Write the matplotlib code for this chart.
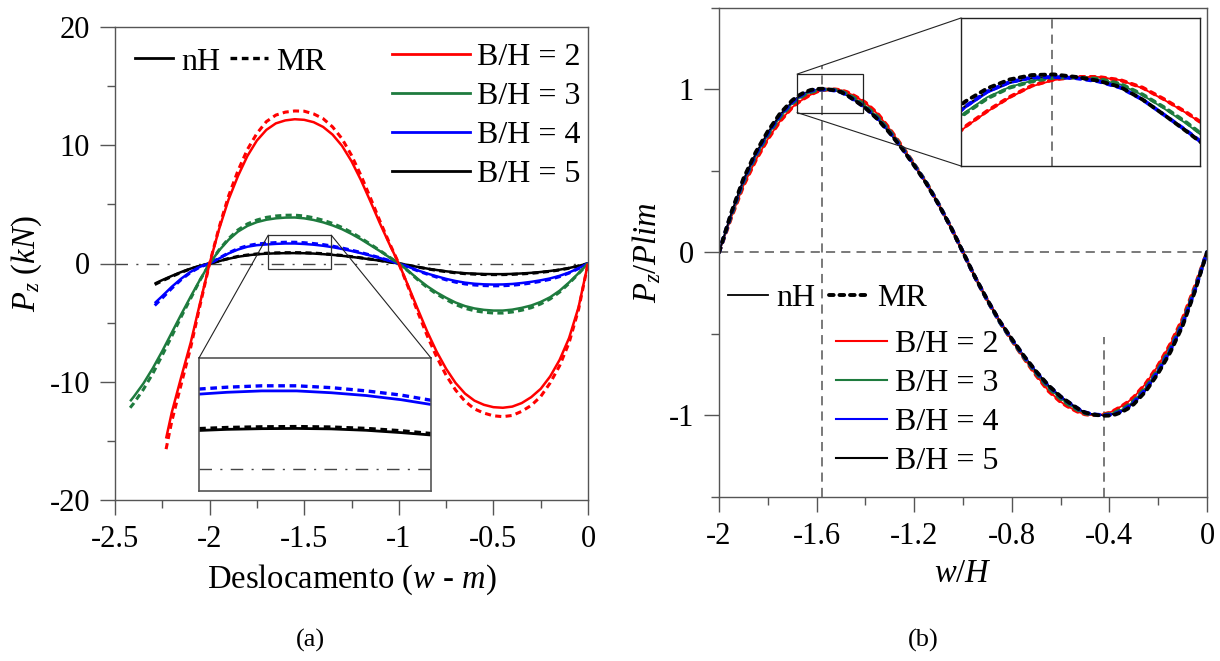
import matplotlib
matplotlib.use("Agg")
import matplotlib.pyplot as plt
from matplotlib.lines import Line2D
from matplotlib.patches import Rectangle, ConnectionPatch

plt.rcParams['font.family'] = ['Liberation Serif', 'DejaVu Serif']
plt.rcParams['mathtext.fontset'] = 'custom'
plt.rcParams['mathtext.rm'] = 'Liberation Serif'
plt.rcParams['mathtext.it'] = 'Liberation Serif:italic'
plt.rcParams['axes.unicode_minus'] = False

# ---------------- data : panel (a) ----------------
grid = [-2.0, -1.95, -1.9, -1.85, -1.8, -1.75, -1.7, -1.65, -1.6, -1.55, -1.5,
        -1.45, -1.4, -1.35, -1.3, -1.25, -1.2, -1.15, -1.1, -1.05, -1.0,
        -0.95, -0.9, -0.85, -0.8, -0.75, -0.7, -0.65, -0.6, -0.55, -0.5,
        -0.45, -0.4, -0.35, -0.3, -0.25, -0.2, -0.15, -0.1, -0.05, 0.0]

x_bh2 = [-2.23, -2.2, -2.15, -2.1, -2.05] + grid
p_bh2_nh = [-14.8, -12.6, -9.6, -6.7, -3.3,
            0, 2.9, 5.4, 7.4, 9.1, 10.4, 11.3, 11.85, 12.1, 12.2, 12.15,
            11.95, 11.55, 10.9, 9.95, 8.65, 7.05, 5.25, 3.4, 1.65, 0,
            -1.9, -3.85, -5.75, -7.45, -8.9, -10.1, -11.0, -11.6, -11.95, -12.15,
            -12.2, -12.1, -11.8, -11.3, -10.6, -9.55, -8.15, -6.3, -3.7, 0]
p_bh2_mr = [-15.7, -13.35, -10.2, -7.1, -3.5,
            0, 3.05, 5.7, 7.85, 9.65, 11.0, 12.0, 12.55, 12.8, 12.9, 12.88,
            12.65, 12.25, 11.55, 10.55, 9.15, 7.45, 5.55, 3.6, 1.75, 0,
            -2.0, -4.1, -6.1, -7.9, -9.45, -10.7, -11.65, -12.3, -12.65, -12.88,
            -12.95, -12.85, -12.5, -12.0, -11.25, -10.1, -8.65, -6.7, -3.9, 0]

x_bh3 = [-2.42, -2.4, -2.35, -2.3, -2.25, -2.2, -2.15, -2.1, -2.05] + grid
p_bh3_nh = [-11.65, -11.25, -10.15, -8.85, -7.4, -5.85, -4.3, -2.8, -1.35,
            0, 1.1, 2.0, 2.7, 3.18, 3.5, 3.7, 3.82, 3.88, 3.89, 3.82,
            3.68, 3.48, 3.22, 2.9, 2.5, 2.05, 1.55, 1.05, 0.52, 0,
            -0.62, -1.3, -1.92, -2.45, -2.9, -3.3, -3.6, -3.8, -3.92, -3.98,
            -3.98, -3.9, -3.75, -3.55, -3.25, -2.85, -2.3, -1.6, -0.82, 0]
p_bh3_mr = [-12.2, -11.8, -10.65, -9.3, -7.75, -6.15, -4.5, -2.95, -1.4,
            0, 1.15, 2.1, 2.84, 3.35, 3.68, 3.9, 4.02, 4.08, 4.09, 4.02,
            3.87, 3.66, 3.39, 3.05, 2.63, 2.15, 1.63, 1.1, 0.55, 0,
            -0.65, -1.37, -2.02, -2.58, -3.05, -3.47, -3.79, -4.0, -4.12, -4.19,
            -4.19, -4.1, -3.95, -3.74, -3.42, -3.0, -2.42, -1.68, -0.86, 0]

x_bh4 = [-2.29, -2.25, -2.2, -2.15, -2.1, -2.05] + grid
p_bh4_nh = [-3.35, -2.75, -1.97, -1.28, -0.7, -0.27,
            0, 0.42, 0.85, 1.18, 1.42, 1.55, 1.61, 1.66, 1.69, 1.69,
            1.65, 1.59, 1.5, 1.38, 1.23, 1.06, 0.87, 0.67, 0.46, 0.23, 0,
            -0.28, -0.58, -0.85, -1.08, -1.3, -1.48, -1.62, -1.71, -1.76, -1.78,
            -1.77, -1.73, -1.65, -1.55, -1.42, -1.26, -1.04, -0.76, -0.4, 0]
p_bh4_mr = [-3.55, -2.92, -2.1, -1.36, -0.75, -0.29,
            0, 0.45, 0.9, 1.26, 1.51, 1.65, 1.72, 1.77, 1.8, 1.8,
            1.76, 1.69, 1.6, 1.47, 1.31, 1.13, 0.93, 0.71, 0.49, 0.25, 0,
            -0.3, -0.62, -0.9, -1.15, -1.38, -1.58, -1.73, -1.82, -1.87, -1.89,
            -1.88, -1.84, -1.76, -1.65, -1.51, -1.34, -1.11, -0.81, -0.43, 0]

x_bh5 = [-2.29, -2.25, -2.2, -2.15, -2.1, -2.05] + grid
p_bh5_nh = [-1.7, -1.4, -1.05, -0.72, -0.43, -0.2,
            0, 0.2, 0.4, 0.57, 0.69, 0.78, 0.83, 0.86, 0.875, 0.88,
            0.87, 0.84, 0.79, 0.73, 0.65, 0.56, 0.46, 0.35, 0.24, 0.12, 0,
            -0.14, -0.29, -0.43, -0.55, -0.66, -0.75, -0.82, -0.86, -0.89, -0.9,
            -0.9, -0.88, -0.84, -0.79, -0.72, -0.63, -0.52, -0.38, -0.2, 0]
p_bh5_mr = [-1.78, -1.46, -1.1, -0.75, -0.45, -0.21,
            0, 0.21, 0.42, 0.6, 0.72, 0.81, 0.87, 0.9, 0.915, 0.92,
            0.91, 0.88, 0.83, 0.76, 0.68, 0.58, 0.48, 0.37, 0.25, 0.13, 0,
            -0.15, -0.3, -0.45, -0.58, -0.69, -0.79, -0.86, -0.9, -0.93, -0.94,
            -0.94, -0.92, -0.88, -0.83, -0.75, -0.66, -0.55, -0.4, -0.21, 0]

# ---------------- data : panel (b) (normalised) ----------------
x_norm = [-2.0, -1.95, -1.9, -1.85, -1.8, -1.75, -1.7,
          -1.675, -1.65, -1.625, -1.6, -1.575, -1.55, -1.525, -1.5, -1.475, -1.45, -1.425, -1.4,
          -1.35, -1.3, -1.25, -1.2, -1.15, -1.1, -1.05, -1.0,
          -0.95, -0.9, -0.85, -0.8, -0.75, -0.7, -0.65, -0.6,
          -0.575, -0.55, -0.525, -0.5, -0.475, -0.45, -0.425, -0.4, -0.375, -0.35, -0.325, -0.3,
          -0.25, -0.2, -0.15, -0.1, -0.05, 0.0]
n_bh2_nh = [0, .215, .41, .565, .695, .805, .89,
            .92, .945, .967, .985, .995, 1.0, 1.0, .995, .982, .963, .942, .918,
            .85, .755, .65, .54, .425, .295, .155, 0,
            -.155, -.295, -.425, -.54, -.65, -.755, -.85, -.918,
            -.942, -.963, -.982, -.995, -1.0, -1.0, -.995, -.985, -.967, -.945, -.92, -.89,
            -.805, -.695, -.565, -.41, -.215, 0]
n_bh2_mr = [0, .213, .409, .564, .695, .805, .89,
            .921, .946, .968, .986, .996, 1.0, 1.0, .995, .983, .964, .943, .919,
            .851, .756, .651, .541, .426, .296, .155, 0,
            -.155, -.296, -.426, -.541, -.651, -.756, -.851, -.919,
            -.943, -.964, -.983, -.995, -1.0, -1.0, -.996, -.986, -.968, -.946, -.921, -.89,
            -.805, -.695, -.564, -.409, -.213, 0]
n_bh3_nh = [0, .225, .43, .59, .72, .83, .915,
            .944, .968, .984, .994, .999, .999, .996, .988, .971, .949, .925, .898,
            .83, .742, .645, .538, .427, .296, .155, 0,
            -.155, -.296, -.427, -.538, -.645, -.742, -.83, -.898,
            -.925, -.949, -.971, -.988, -.996, -.999, -.999, -.994, -.984, -.968, -.944, -.915,
            -.83, -.72, -.59, -.43, -.225, 0]
n_bh3_mr = [0, .224, .429, .589, .719, .829, .913,
            .942, .966, .983, .993, .999, .999, .997, .989, .972, .951, .927, .9,
            .832, .744, .646, .539, .428, .297, .155, 0,
            -.155, -.297, -.428, -.539, -.646, -.744, -.832, -.9,
            -.927, -.951, -.972, -.989, -.997, -.999, -.999, -.993, -.983, -.966, -.942, -.913,
            -.829, -.719, -.589, -.429, -.224, 0]
n_bh4_nh = [0, .235, .44, .60, .73, .84, .92,
            .951, .975, .99, .998, 1.0, .998, .994, .984, .965, .94, .915, .888,
            .82, .735, .64, .535, .425, .295, .155, 0,
            -.155, -.295, -.425, -.535, -.64, -.735, -.82, -.888,
            -.915, -.94, -.965, -.984, -.994, -.998, -1.0, -.998, -.99, -.975, -.951, -.92,
            -.84, -.73, -.60, -.44, -.235, 0]
n_bh4_mr = [0, .236, .442, .602, .732, .842, .923,
            .953, .977, .992, .999, 1.0, .998, .993, .983, .964, .939, .914, .887,
            .819, .734, .639, .534, .424, .294, .155, 0,
            -.155, -.294, -.424, -.534, -.639, -.734, -.819, -.887,
            -.914, -.939, -.964, -.983, -.993, -.998, -1.0, -.999, -.992, -.977, -.953, -.923,
            -.842, -.732, -.602, -.442, -.236, 0]
n_bh5_nh = [0, .238, .445, .605, .735, .845, .923,
            .954, .977, .991, .998, 1.0, .998, .993, .983, .964, .939, .913, .886,
            .818, .733, .638, .533, .423, .294, .154, 0,
            -.154, -.294, -.423, -.533, -.638, -.733, -.818, -.886,
            -.913, -.939, -.964, -.983, -.993, -.998, -1.0, -.998, -.991, -.977, -.954, -.923,
            -.845, -.735, -.605, -.445, -.238, 0]
n_bh5_mr = [0, .242, .452, .613, .743, .852, .933,
            .961, .982, .996, 1.003, 1.004, 1.0, .994, .984, .964, .939, .913, .886,
            .817, .732, .637, .532, .422, .293, .154, 0,
            -.154, -.293, -.422, -.532, -.637, -.732, -.817, -.886,
            -.913, -.939, -.964, -.984, -.994, -1.0, -1.004, -1.003, -.996, -.982, -.961, -.933,
            -.852, -.743, -.613, -.452, -.242, 0]

labels_bh = ['B/H = 2', 'B/H = 3', 'B/H = 4', 'B/H = 5']
colors_bh = ['#ff0000', '#1e7b3e', '#0000ff', '#000000']
labels_type = ['nH', 'MR']

xticks_a = [-2.5, -2, -1.5, -1, -0.5, 0]
xticklabels_a = ['-2.5', '-2', '-1.5', '-1', '-0.5', '0']
yticks_a = [-20, -10, 0, 10, 20]
yticklabels_a = ['-20', '-10', '0', '10', '20']
xticks_b = [-2, -1.6, -1.2, -0.8, -0.4, 0]
xticklabels_b = ['-2', '-1.6', '-1.2', '-0.8', '-0.4', '0']
yticks_b = [-1, 0, 1]
yticklabels_b = ['-1', '0', '1']
peak_w = [-1.577, -0.423]

# ---------------- figure ----------------
W, H = 1220, 661
fig = plt.figure(figsize=(W / 100, H / 100), dpi=100)

def px_rect(x0, y0, x1, y1):
    return [x0 / W, 1 - y1 / H, (x1 - x0) / W, (y1 - y0) / H]

SP = '#555555'
FS = 22

def style_axes(ax):
    for s in ax.spines.values():
        s.set_color(SP)
        s.set_linewidth(1.0)
    ax.tick_params(which='major', direction='out', length=11, width=1.0, color=SP,
                   labelsize=FS, pad=7, top=False, right=False)
    ax.tick_params(which='minor', direction='out', length=5.5, width=1.0, color=SP,
                   top=False, right=False)

series_a = [(x_bh2, p_bh2_nh, p_bh2_mr), (x_bh3, p_bh3_nh, p_bh3_mr),
            (x_bh4, p_bh4_nh, p_bh4_mr), (x_bh5, p_bh5_nh, p_bh5_mr)]
series_b = [(n_bh2_nh, n_bh2_mr), (n_bh3_nh, n_bh3_mr), (n_bh4_nh, n_bh4_mr), (n_bh5_nh, n_bh5_mr)]

def draw_a(ax, lw=1.8):
    ax.axhline(0, color='#444444', lw=1.0, dashes=(9, 6, 1.5, 6))
    for i in [3, 2, 1, 0]:
        xs, nh, mr = series_a[i]
        ax.plot(xs, nh, color=colors_bh[i], lw=lw, solid_capstyle='butt', solid_joinstyle='round')
        ax.plot(xs, mr, color=colors_bh[i], lw=lw + 0.4, dashes=(2.0, 1.4))

def draw_b(ax):
    for i in range(4):
        ax.plot(x_norm, series_b[i][0], color=colors_bh[i], lw=1.3, solid_joinstyle='round')
    for i in range(4):
        ax.plot(x_norm, series_b[i][1], color=colors_bh[i], lw=2.8, dashes=(1.2, 1.5),
                dash_capstyle='round')

# ---- panel (a)
axa = fig.add_axes(px_rect(115, 27, 588, 500))
style_axes(axa)
draw_a(axa)
axa.set_xlim(-2.5, 0)
axa.set_ylim(-20, 20)
axa.set_xticks(xticks_a)
axa.set_xticklabels(xticklabels_a)
axa.set_xticks([-2.25, -1.75, -1.25, -0.75, -0.25], minor=True)
axa.set_yticks(yticks_a)
axa.set_yticklabels(yticklabels_a)
axa.set_yticks([-15, -5, 5, 15], minor=True)
axa.set_xlabel('Deslocamento ($w$ - $m$)', fontsize=23.5, labelpad=6)
axa.set_ylabel('$P_z$ $(kN)$', fontsize=23.5, labelpad=4)

LF = 23
leg1 = axa.legend([Line2D([], [], color='k', lw=2), Line2D([], [], color='k', lw=2.4, dashes=(2.0, 1.4))],
                  labels_type, ncol=2, frameon=False, fontsize=LF, loc='center left',
                  bbox_to_anchor=(135 / W, 1 - 62 / H), bbox_transform=fig.transFigure,
                  borderpad=0, borderaxespad=0, handlelength=1.2, handletextpad=0.25,
                  columnspacing=0.3)
axa.add_artist(leg1)
axa.legend([Line2D([], [], color=c, lw=2) for c in colors_bh], labels_bh, frameon=False,
           fontsize=LF, loc='center left', bbox_to_anchor=(392 / W, 1 - 116 / H),
           bbox_transform=fig.transFigure, borderpad=0, borderaxespad=0,
           handlelength=2.45, handletextpad=0.22, labelspacing=0.3)

# inset (a)
ina = fig.add_axes(px_rect(199, 358, 431, 491))
draw_a(ina, lw=2.0)
ina_x = (-1.69, -1.357)
ina_y = (-0.47, 2.40)
ina.set_xlim(*ina_x)
ina.set_ylim(*ina_y)
ina.set_xticks([])
ina.set_yticks([])
for s in ina.spines.values():
    s.set_color(SP)
    s.set_linewidth(1.2)
axa.add_patch(Rectangle((ina_x[0], ina_y[0]), ina_x[1] - ina_x[0], ina_y[1] - ina_y[0],
                        fill=False, edgecolor='#333333', lw=0.9, zorder=5))
for xd, xf in [(ina_x[0], 0), (ina_x[1], 1)]:
    cp = ConnectionPatch(xyA=(xd, ina_y[1]), coordsA=axa.transData, xyB=(xf, 1),
                         coordsB=ina.transAxes, color='#222222', lw=0.8)
    fig.add_artist(cp)

# ---- panel (b)
axb = fig.add_axes(px_rect(719, 8, 1207, 496.5))
style_axes(axb)
axb.axhline(0, color=SP, lw=1.1, dashes=(6, 4))
axb.plot([peak_w[0], peak_w[0]], [-1.5, 1.145], color=SP, lw=1.1, dashes=(6, 4))
axb.plot([peak_w[1], peak_w[1]], [-1.5, -0.52], color=SP, lw=1.1, dashes=(6, 4))
draw_b(axb)
axb.set_xlim(-2, 0)
axb.set_ylim(-1.5, 1.5)
axb.set_xticks(xticks_b)
axb.set_xticklabels(xticklabels_b)
axb.set_xticks([-1.8, -1.4, -1.0, -0.6, -0.2], minor=True)
axb.set_yticks(yticks_b)
axb.set_yticklabels(yticklabels_b)
axb.set_yticks([-1.5, -0.5, 0.5, 1.5], minor=True)
axb.set_xlabel('$w/H$', fontsize=23.5, labelpad=6)
axb.set_ylabel('$P_z/Plim$', fontsize=23.5, labelpad=4)

leg3 = axb.legend([Line2D([], [], color='k', lw=1.3),
                   Line2D([], [], color='k', lw=2.8, dashes=(1.2, 1.5), dash_capstyle='round')],
                  labels_type, ncol=2, frameon=False, fontsize=LF, loc='center left',
                  bbox_to_anchor=(728 / W, 1 - 298 / H), bbox_transform=fig.transFigure,
                  borderpad=0, borderaxespad=0, handlelength=1.25, handletextpad=0.25,
                  columnspacing=0.45)
axb.add_artist(leg3)
axb.legend([Line2D([], [], color=c, lw=1.5) for c in colors_bh], labels_bh, frameon=False,
           fontsize=LF, loc='center left', bbox_to_anchor=(836 / W, 1 - 403 / H),
           bbox_transform=fig.transFigure, borderpad=0, borderaxespad=0,
           handlelength=1.6, handletextpad=0.25, labelspacing=0.3)

# inset (b)
inb = fig.add_axes(px_rect(961, 18, 1200, 166))
inb.axvline(peak_w[0], color=SP, lw=1.1, dashes=(6, 4))
draw_b(inb)
inb_x = (-1.68, -1.41)
inb_y = (0.858, 1.094)
inb.set_xlim(*inb_x)
inb.set_ylim(*inb_y)
inb.set_xticks([])
inb.set_yticks([])
for s in inb.spines.values():
    s.set_color('#222222')
    s.set_linewidth(1.0)
axb.add_patch(Rectangle((inb_x[0], inb_y[0]), inb_x[1] - inb_x[0], inb_y[1] - inb_y[0],
                        fill=False, edgecolor='#222222', lw=0.9, zorder=5))
for yd, yf in [(inb_y[1], 1), (inb_y[0], 0)]:
    cp = ConnectionPatch(xyA=(inb_x[0], yd), coordsA=axb.transData, xyB=(0, yf),
                         coordsB=inb.transAxes, color='#222222', lw=0.8)
    fig.add_artist(cp)

fig.text(310 / W, 1 - 640 / H, '(a)', fontsize=19, ha='center', va='center')
fig.text(923 / W, 1 - 640 / H, '(b)', fontsize=19, ha='center', va='center')

fig.savefig('out.png', dpi=100)
